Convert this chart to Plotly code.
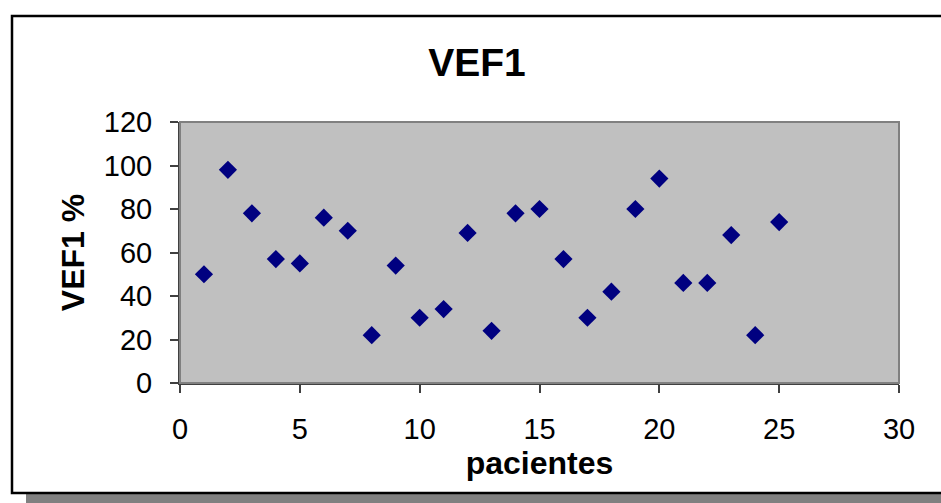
#-- VEF1 scatter per patient

import plotly.graph_objects as go

#-- Data
pacientes = list(range(1, 26))
vef1 = [50, 98, 78, 57, 55, 76, 70, 22, 54, 30, 34, 69, 24, 78, 80,
        57, 30, 42, 80, 94, 46, 46, 68, 22, 74]

x_ticks = [0, 5, 10, 15, 20, 25, 30]
y_ticks = [0, 20, 40, 60, 80, 100, 120]

#-- Figure geometry (pixels)
W, H = 941, 503
L, R, T, B = 180, 42, 122, 120
pw, ph = W - L - R, H - T - B


def px_x(p):
    return (p - L) / pw


def px_y(p):
    return (H - B - p) / ph


font = "Arial, Liberation Sans, sans-serif"

fig = go.Figure()
fig.add_trace(go.Scatter(x=pacientes, y=vef1, mode="markers",
                         marker=dict(symbol="diamond", size=14, color="#000080",
                                     line=dict(width=0)),
                         showlegend=False, cliponaxis=False))

#-- chart frame and shadow
fig.add_shape(type="rect", xref="paper", yref="paper", layer="below",
              x0=px_x(26), x1=px_x(960), y0=px_y(494), y1=px_y(520),
              fillcolor="#808080", line=dict(width=0))
fig.add_shape(type="rect", xref="paper", yref="paper", layer="below",
              x0=px_x(12), x1=px_x(960), y0=px_y(493), y1=px_y(16),
              line=dict(color="black", width=2.5))
#-- plot area border
fig.add_shape(type="rect", xref="paper", yref="paper",
              x0=0, x1=1, y0=0, y1=1,
              line=dict(color="#808080", width=2))

fig.update_xaxes(range=[0, 30], tickvals=x_ticks, showgrid=False, zeroline=False,
                 showline=True, linecolor="#404040", linewidth=2,
                 ticks="outside", ticklen=8, tickcolor="#404040", tickwidth=1.5,
                 ticklabelstandoff=11,
                 tickfont=dict(family=font, size=29, color="black"),
                 title=dict(text="<b>pacientes</b>", standoff=2,
                            font=dict(family=font, size=32, color="black")))
fig.update_yaxes(range=[0, 120], tickvals=y_ticks, showgrid=False, zeroline=False,
                 showline=True, linecolor="#404040", linewidth=2,
                 ticks="outside", ticklen=8, tickcolor="#404040", tickwidth=1.5,
                 ticklabelstandoff=12,
                 tickfont=dict(family=font, size=29, color="black"),
                 title=dict(text="<b>VEF1 %</b>", standoff=10,
                            font=dict(family=font, size=32, color="black")))

fig.update_layout(width=W, height=H,
                  margin=dict(l=L, r=R, t=T, b=B),
                  paper_bgcolor="white", plot_bgcolor="#C0C0C0",
                  title=dict(text="<b>VEF1</b>", x=477 / W, xanchor="center",
                             y=1 - 62 / H, yanchor="middle", xref="container",
                             yref="container",
                             font=dict(family=font, size=39, color="black")))

fig.write_html("out.html", config={"displayModeBar": False},
               post_script="document.body.style.margin='0';")
